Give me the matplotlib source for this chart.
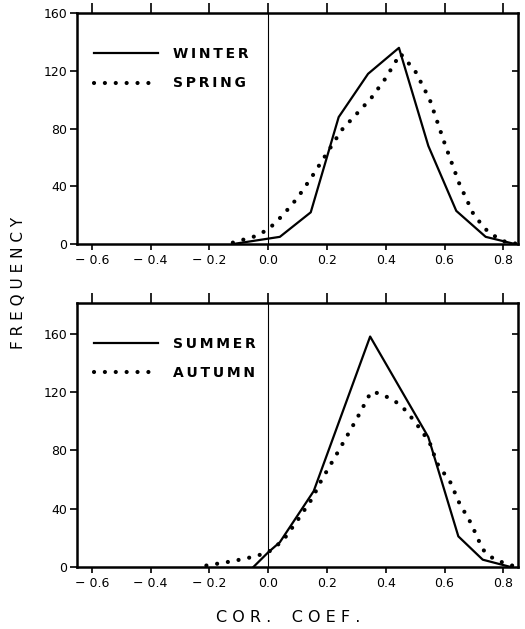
import matplotlib
matplotlib.use("Agg")
import matplotlib.pyplot as plt

# ---- data ----
winter_x = [-0.12, 0.04, 0.145, 0.24, 0.34, 0.445, 0.545, 0.64, 0.74, 0.84]
winter_y = [0, 5, 22, 88, 118, 136, 68, 23, 5, 0]

spring_x = [-0.12, -0.05, 0.0, 0.05, 0.1, 0.15, 0.2, 0.25, 0.3, 0.35, 0.4, 0.45, 0.5, 0.55, 0.6, 0.65, 0.7, 0.75, 0.8, 0.85]
spring_y = [1, 5, 10, 20, 32, 47, 63, 79, 90, 101, 115, 132, 120, 100, 70, 42, 20, 8, 2, 0]

summer_x = [-0.05, 0.0, 0.04, 0.155, 0.347, 0.545, 0.647, 0.73, 0.825]
summer_y = [0, 10, 17, 52, 158, 89, 21, 5, 0]

autumn_x = [-0.21, -0.12, -0.05, 0.0, 0.05, 0.1, 0.15, 0.18, 0.235, 0.3, 0.35, 0.38, 0.43, 0.47, 0.52, 0.55, 0.575, 0.62, 0.65, 0.69, 0.73, 0.77, 0.83]
autumn_y = [1, 4, 7, 10, 18, 32, 47, 59, 78, 101, 120, 119, 114, 107, 94, 85, 71, 58, 44, 30, 12, 5, 1]

x_ticks = [-0.6, -0.4, -0.2, 0.0, 0.2, 0.4, 0.6, 0.8]
x_labels = ["\u2212 0.6", "\u2212 0.4", "\u2212 0.2", "0.0", "0.2", "0.4", "0.6", "0.8"]
top_yticks = [0, 40, 80, 120, 160]
bot_yticks = [0, 40, 80, 120, 160]

def spaced(s, sep="\u2009"):
    return sep.join(list(s))

fig = plt.figure(figsize=(5.25, 6.29), dpi=100)
ax1 = fig.add_axes([0.1467, 0.612, 0.84, 0.367])
ax2 = fig.add_axes([0.1467, 0.0986, 0.84, 0.4197])

dot_style = dict(color="black", linewidth=3.0, linestyle=(0, (0.01, 2.6)),
                 dash_capstyle="round")
solid_style = dict(color="black", linewidth=1.6)

def style_axes(ax, ylim, yticks, right_ticks):
    ax.set_xlim(-0.65, 0.85)
    ax.set_ylim(*ylim)
    ax.axvline(0, color="black", linewidth=0.8)
    for s in ax.spines.values():
        s.set_linewidth(1.8)
    ax.set_xticks(x_ticks)
    ax.set_xticklabels(x_labels, fontsize=9)
    ax.set_yticks(yticks)
    ax.set_yticklabels([str(v) for v in yticks], fontsize=9)
    ax.tick_params(axis="x", direction="out", length=4, width=1.2, top=False, pad=3)
    ax.tick_params(axis="y", direction="out", length=5, width=1.2, pad=2)
    sec = ax.secondary_xaxis("top")
    sec.set_xticks(x_ticks)
    sec.set_xticklabels([])
    sec.tick_params(direction="out", length=7, width=1.2)
    sec.spines["top"].set_visible(False)
    secy = ax.secondary_yaxis("right")
    secy.set_yticks(right_ticks)
    secy.set_yticklabels([])
    secy.tick_params(direction="in", length=4, width=1.2)
    secy.spines["right"].set_visible(False)

style_axes(ax1, (0, 160), top_yticks, [40, 80, 120])
style_axes(ax2, (0, 181), bot_yticks, [40, 80, 120, 160])

ax1.plot(winter_x, winter_y, label=spaced("WINTER"), **solid_style)
ax1.plot(spring_x, spring_y, label=spaced("SPRING"), **dot_style)
ax2.plot(summer_x, summer_y, label=spaced("SUMMER"), **solid_style)
ax2.plot(autumn_x, autumn_y, label=spaced("AUTUMN"), **dot_style)

for ax, anchor in ((ax1, (0.0, 0.925)), (ax2, (0.0, 0.935))):
    leg = ax.legend(loc="upper left", bbox_to_anchor=anchor, frameon=False,
                    fontsize=10, handlelength=4.6, handletextpad=1.1,
                    labelspacing=1.1, borderaxespad=0.8)
    for t in leg.get_texts():
        t.set_fontweight("bold")

fig.text(0.035, 0.55, spaced("FREQUENCY", " "), rotation=90, ha="center", va="center",
         fontsize=11)
fig.text(0.549, 0.019, "C O R .    C O E F .", ha="center",
         va="center", fontsize=11.5)

fig.savefig("out.png", dpi=100)
